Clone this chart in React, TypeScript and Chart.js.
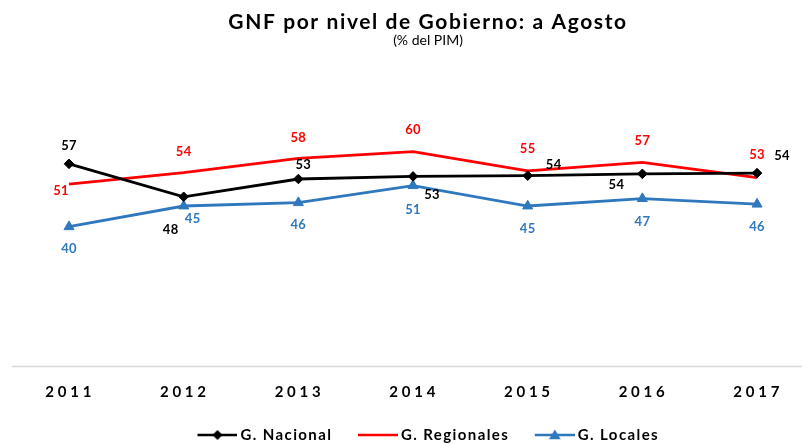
import React, { useEffect, useRef } from "react";
import { Chart, registerables } from "chart.js";

Chart.register(...registerables);

// ---- data ----
const years = [2011, 2012, 2013, 2014, 2015, 2016, 2017];
const nacional = [56.8, 47.9, 52.7, 53.4, 53.6, 54.1, 54.3];
const regionales = [51.3, 54.4, 58.3, 60.1, 54.9, 57.2, 53.1];
const locales = [39.8, 45.4, 46.3, 50.9, 45.4, 47.4, 45.9];
const seriesNames = ["G. Nacional", "G. Regionales", "G. Locales"];
const titleText = "GNF por nivel de Gobierno: a Agosto";
const subtitleText = "(% del PIM)";

// ---- style ----
const FONT = "Lato";
const LETTER_SPACING = "1.4px";
const boxSpacing: Record<string, string> = {
  [titleText]: "1.6px",
  [subtitleText]: "0px",
};
const LEGEND_SHIFT = -7.5;
const colors = ["#000000", "#FF0000", "#2F78BD"];
const pointStyles: any[] = ["rectRot", false, "triangle"];
const pointRadii = [4.8, 0, 5.8];
// data label offsets (px) relative to each point
const labelOffsets = [
  [[0, -18], [-13, 33], [5, -14], [19, 18], [26, -11], [-26, 11], [25, -17]],
  [[-8, 7], [0, -21], [0, -20], [0, -22], [0, -22], [0, -22], [0, -23]],
  [[0, 22], [9, 13], [0, 22], [0, 24], [0, 23], [0, 23], [0, 23]],
];

function legendIcon(color: string, style: any): HTMLCanvasElement {
  const c = document.createElement("canvas");
  c.width = 60;
  c.height = 14;
  const ctx = c.getContext("2d")!;
  ctx.strokeStyle = color;
  ctx.fillStyle = color;
  ctx.lineWidth = 2.7;
  ctx.beginPath();
  ctx.moveTo(20, 7);
  ctx.lineTo(60, 7);
  ctx.stroke();
  const cx = 40, cy = 7;
  if (style === "rectRot") {
    const r = 5;
    ctx.beginPath();
    ctx.moveTo(cx - r, cy);
    ctx.lineTo(cx, cy - r);
    ctx.lineTo(cx + r, cy);
    ctx.lineTo(cx, cy + r);
    ctx.closePath();
    ctx.fill();
  } else if (style === "triangle") {
    const r = 6.5;
    ctx.beginPath();
    ctx.moveTo(cx, cy - r * 0.85);
    ctx.lineTo(cx + r * 0.9, cy + r * 0.65);
    ctx.lineTo(cx - r * 0.9, cy + r * 0.65);
    ctx.closePath();
    ctx.fill();
  }
  return c;
}

const spacingPlugin = {
  id: "spacing",
  beforeUpdate(chart: any) {
    chart.ctx.letterSpacing = LETTER_SPACING;
  },
  beforeLayout(chart: any) {
    chart.ctx.letterSpacing = LETTER_SPACING;
  },
  afterLayout(chart: any) {
    chart.boxes.forEach((b: any) => {
      const txt = b.options && b.options.text;
      if (typeof txt === "string" && boxSpacing[txt] !== undefined && !b.__wrapped) {
        const orig = b.draw;
        b.draw = function (...args: any[]) {
          const ctx = chart.ctx;
          const prev = ctx.letterSpacing;
          ctx.letterSpacing = boxSpacing[txt];
          orig.apply(this, args);
          ctx.letterSpacing = prev;
        };
        b.__wrapped = true;
      }
    });
    if (chart.legend) {
      chart.legend.left += LEGEND_SHIFT;
      chart.legend.right += LEGEND_SHIFT;
    }
  },
  beforeDraw(chart: any) {
    chart.ctx.letterSpacing = LETTER_SPACING;
  },
};

const baselinePlugin = {
  id: "baseline",
  beforeDatasetsDraw(chart: any) {
    const x = chart.scales.x;
    const y = chart.scales.y;
    const ctx = chart.ctx;
    const yy = y.getPixelForValue(y.min);
    ctx.save();
    ctx.strokeStyle = "#D9D9D9";
    ctx.lineWidth = 1.5;
    ctx.beginPath();
    ctx.moveTo(x.getPixelForValue(years[0] - 0.5), yy);
    ctx.lineTo(chart.chartArea.right, yy);
    ctx.stroke();
    ctx.restore();
  },
};

const dataLabelPlugin = {
  id: "dataLabels",
  afterDatasetsDraw(chart: any) {
    const ctx = chart.ctx;
    ctx.save();
    ctx.letterSpacing = "0.3px";
    ctx.font = `bold 13px ${FONT}`;
    ctx.textAlign = "center";
    ctx.textBaseline = "middle";
    chart.data.datasets.forEach((ds: any, di: number) => {
      const meta = chart.getDatasetMeta(di);
      ctx.fillStyle = colors[di];
      meta.data.forEach((el: any, i: number) => {
        const v = ds.data[i];
        const [dx, dy] = labelOffsets[di][i];
        ctx.fillText(String(Math.round(v)), el.x + dx, el.y + dy);
      });
    });
    ctx.restore();
  },
};

export default function App() {
  const ref = useRef<HTMLCanvasElement>(null);
  useEffect(() => {
    document.body.style.margin = "0";
    Chart.defaults.font.family = FONT;
    const series = [nacional, regionales, locales];
    const icons = series.map((_, i) => legendIcon(colors[i], pointStyles[i]));
    const chart = new Chart(ref.current!, {
      type: "line",
      data: {
        labels: years,
        datasets: series.map((s, i) => ({
          label: seriesNames[i],
          data: s,
          borderColor: colors[i],
          backgroundColor: colors[i],
          borderWidth: 2.8,
          pointStyle: pointStyles[i],
          pointRadius: pointRadii[i],
          pointBorderWidth: 1,
          pointBackgroundColor: colors[i],
          pointBorderColor: colors[i],
          tension: 0,
          fill: false,
        })),
      },
      options: {
        responsive: false,
        animation: false,
        layout: { autoPadding: false, padding: { left: 54, right: 0, top: 0, bottom: -7.5 } },
        scales: {
          x: {
            type: "linear",
            min: 2010.869,
            max: 2017.392,
            grid: { display: false, drawTicks: false },
            border: { display: false },
            afterBuildTicks: (scale: any) => {
              scale.ticks = years.map((v) => ({ value: v }));
            },
            afterFit: (scale: any) => {
              scale.paddingLeft = 0;
              scale.paddingRight = 0;
            },
            ticks: {
              autoSkip: false,
              maxRotation: 0,
              padding: 16.4,
              color: "#000",
              font: { family: FONT, size: 15, weight: "bold", lineHeight: 1.2 },
              callback: (v: any) => String(v).split("").join("\u200A"),
            },
          },
          y: {
            display: false,
            min: 2,
            max: 70,
          },
        },
        plugins: {
          title: {
            display: true,
            text: titleText,
            fullSize: false,
            color: "#000",
            font: { family: FONT, size: 21, weight: "bold", lineHeight: 1 },
            padding: { top: 12, bottom: 0 },
          },
          subtitle: {
            display: true,
            text: subtitleText,
            fullSize: false,
            color: "#000",
            font: { family: FONT, size: 14, weight: "normal", lineHeight: 1 },
            padding: { top: 0, bottom: 68 },
          },
          legend: {
            display: true,
            position: "bottom",
            fullSize: false,
            labels: {
              usePointStyle: true,
              pointStyleWidth: 51,
              padding: 10.1,
              color: "#000",
              font: { family: FONT, size: 15, weight: "bold" },
              generateLabels: (c: any) =>
                c.data.datasets.map((ds: any, i: number) => ({
                  text: ds.label,
                  pointStyle: icons[i],
                  fillStyle: colors[i],
                  strokeStyle: colors[i],
                  lineWidth: 0,
                  hidden: false,
                  datasetIndex: i,
                  fontColor: "#000",
                })),
            },
          },
          tooltip: { enabled: false },
        },
      } as any,
      plugins: [spacingPlugin, baselinePlugin, dataLabelPlugin],
    });
    return () => chart.destroy();
  }, []);
  return (
    <div style={{ width: 802, height: 445 }}>
      <canvas ref={ref} width={802} height={445} style={{ display: "block" }} />
    </div>
  );
}
